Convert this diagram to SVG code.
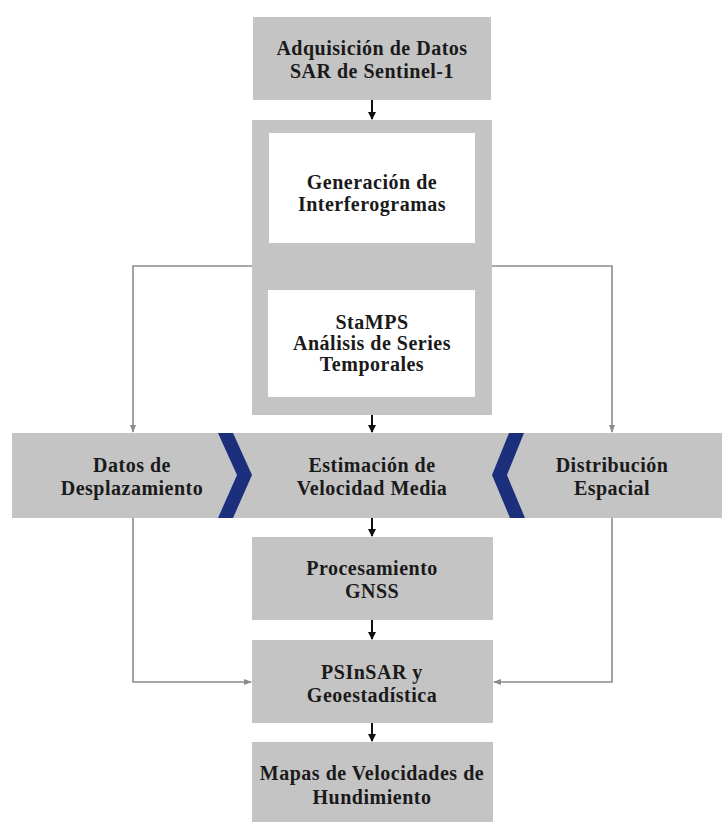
<svg xmlns="http://www.w3.org/2000/svg" width="722" height="824" viewBox="0 0 722 824">
<defs>
<style>
.box{fill:#c4c4c4}
.inner{fill:#ffffff}
.chev{fill:#1b2f7d}
.t{font-family:"Liberation Serif","Times New Roman",serif;font-weight:bold;font-size:20px;letter-spacing:0.5px;fill:#1a1a1a;text-anchor:middle}
.flow{stroke:#111;stroke-width:2;fill:none}
.side{stroke:#8c8c8c;stroke-width:1.6;fill:none}
</style>
<marker id="ab" markerWidth="8" markerHeight="8" refX="7" refY="4" orient="auto" markerUnits="userSpaceOnUse">
<path d="M0,0 L8,4 L0,8 Z" fill="#111"/>
</marker>
<marker id="ag" markerWidth="8" markerHeight="6" refX="7" refY="3" orient="auto" markerUnits="userSpaceOnUse">
<path d="M0,0 L8,3 L0,6 Z" fill="#8c8c8c"/>
</marker>
</defs>
<rect width="722" height="824" fill="#ffffff"/>

<g id="adquisicion">
<rect class="box" x="253" y="17" width="238" height="83"/>
<text class="t" x="372" y="55">Adquisición de Datos</text>
<text class="t" x="372" y="78">SAR de Sentinel-1</text>
</g>

<g id="contenedor">
<rect class="box" x="252" y="120" width="240" height="295"/>
</g>

<g id="generacion">
<rect class="inner" x="269" y="133" width="206" height="110"/>
<text class="t" x="372" y="189">Generación de</text>
<text class="t" x="372" y="211">Interferogramas</text>
</g>

<g id="stamps">
<rect class="inner" x="268" y="290" width="207" height="107"/>
<text class="t" x="372" y="329">StaMPS</text>
<text class="t" x="372" y="350">Análisis de Series</text>
<text class="t" x="372" y="371">Temporales</text>
</g>

<g id="banda">
<rect class="box" x="12" y="433" width="710" height="85"/>
</g>

<g id="datos-desplazamiento">
<text class="t" x="132" y="472">Datos de</text>
<text class="t" x="132" y="495">Desplazamiento</text>
</g>

<g id="estimacion">
<text class="t" x="372" y="472">Estimación de</text>
<text class="t" x="372" y="495">Velocidad Media</text>
</g>

<g id="distribucion">
<text class="t" x="612" y="472">Distribución</text>
<text class="t" x="612" y="495">Espacial</text>
</g>

<g id="chevrones">
<polygon class="chev" points="218,433 233,433 252,475 233,518 218,518 237,475"/>
<polygon class="chev" points="509,433 524,433 507,475 525,518 510,518 492,475"/>
</g>

<g id="gnss">
<rect class="box" x="252" y="537" width="241" height="83"/>
<text class="t" x="372" y="575">Procesamiento</text>
<text class="t" x="372" y="598">GNSS</text>
</g>

<g id="psinsar">
<rect class="box" x="252" y="640" width="241" height="83"/>
<text class="t" x="372" y="679">PSInSAR y</text>
<text class="t" x="372" y="702">Geoestadística</text>
</g>

<g id="mapas">
<rect class="box" x="252" y="742" width="241" height="80"/>
<text class="t" x="372" y="780">Mapas de Velocidades de</text>
<text class="t" x="372" y="804">Hundimiento</text>
</g>

<g id="conectores">
<line class="flow" x1="372" y1="100" x2="372" y2="119" marker-end="url(#ab)"/>
<line class="flow" x1="372" y1="415" x2="372" y2="432" marker-end="url(#ab)"/>
<line class="flow" x1="372" y1="518" x2="372" y2="536" marker-end="url(#ab)"/>
<line class="flow" x1="372" y1="620" x2="372" y2="639" marker-end="url(#ab)"/>
<line class="flow" x1="372" y1="723" x2="372" y2="741" marker-end="url(#ab)"/>
<polyline class="side" points="252,266 133,266 133,432" marker-end="url(#ag)"/>
<polyline class="side" points="492,266 612,266 612,432" marker-end="url(#ag)"/>
<polyline class="side" points="133,518 133,682 251,682" marker-end="url(#ag)"/>
<polyline class="side" points="612,518 612,682 494,682" marker-end="url(#ag)"/>
</g>
</svg>
